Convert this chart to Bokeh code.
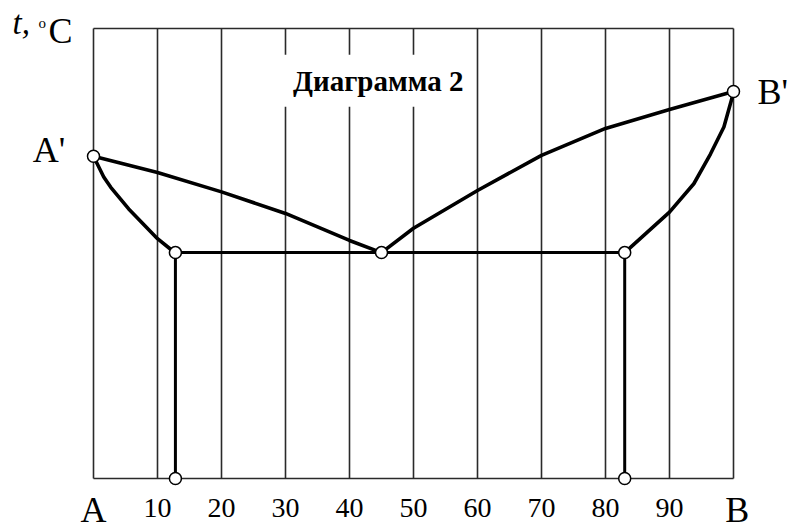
from bokeh.plotting import figure
from bokeh.models import Range1d, FixedTicker, Label, LinearAxis
from bokeh.embed import file_html
from bokeh.resources import INLINE

# ---- data (composition % B on x, temperature in arbitrary units on y) ----
grid_x = [0, 10, 20, 30, 40, 50, 60, 70, 80, 90, 100]
tick_values = [10, 20, 30, 40, 50, 60, 70, 80, 90]
tick_labels = ["10", "20", "30", "40", "50", "60", "70", "80", "90"]
y_domain = [0, 100]

liq_left_x = [0, 10, 20, 30, 40, 45]
liq_left_y = [71.6, 68.0, 63.7, 58.9, 52.9, 50.2]
liq_right_x = [45, 50, 60, 70, 80, 90, 100]
liq_right_y = [50.2, 55.6, 64.0, 71.8, 77.8, 82.0, 86.0]
sol_left_x = [0, 1.6, 2.7, 5.5, 10, 12, 12.8]
sol_left_y = [71.6, 67.0, 64.7, 59.9, 53.3, 51.0, 50.2]
sol_right_x = [83, 86.5, 90, 93.8, 96.4, 98.5, 99.8, 100]
sol_right_y = [50.2, 54.7, 59.2, 65.5, 72.1, 78.1, 84.7, 86.0]
eut_x = [12.8, 83]
eut_y = [50.2, 50.2]
pts_x = [0, 12.8, 45, 83, 100, 12.8, 83]
pts_y = [71.6, 50.2, 50.2, 50.2, 86.0, 0, 0]

SERIF = "Liberation Serif"

# the plot frame covers the whole canvas so that outer labels are not clipped
p = figure(width=787, height=531, output_backend="svg", toolbar_location=None,
           x_range=Range1d(-93 / 6.4, 694 / 6.4), y_range=Range1d(-53 / 4.5, 478 / 4.5),
           x_axis_type=None, y_axis_type=None,
           min_border_left=0, min_border_right=0, min_border_top=0, min_border_bottom=0)
p.outline_line_color = None
p.grid.visible = False
p.background_fill_color = "white"
p.border_fill_color = "white"

# axis (tick labels only), drawn at y = 0
ax = LinearAxis(ticker=FixedTicker(ticks=tick_values), fixed_location=y_domain[0])
ax.major_label_overrides = {v: s for v, s in zip(tick_values, tick_labels)}
ax.axis_line_color = None
ax.major_tick_line_color = None
ax.minor_tick_line_color = None
ax.major_label_text_font = SERIF
ax.major_label_text_font_size = "28px"
ax.major_label_text_color = "black"
ax.major_label_standoff = 14
p.add_layout(ax, "below")

# grid / frame lines
p.segment(x0=grid_x, y0=[y_domain[0]] * len(grid_x), x1=grid_x, y1=[y_domain[1]] * len(grid_x),
          line_color="#2a2a2a", line_width=1.6)
p.segment(x0=[grid_x[0]] * 2, y0=y_domain, x1=[grid_x[-1]] * 2, y1=y_domain,
          line_color="#2a2a2a", line_width=1.6)

# curves
for xs, ys in [(liq_left_x, liq_left_y), (liq_right_x, liq_right_y),
               (sol_left_x, sol_left_y), (sol_right_x, sol_right_y)]:
    p.line(xs, ys, line_color="black", line_width=3.6)
p.line(eut_x, eut_y, line_color="black", line_width=3)
p.segment(x0=eut_x, y0=[y_domain[0]] * 2, x1=eut_x, y1=eut_y, line_color="black", line_width=3)

p.scatter(pts_x, pts_y, size=12, fill_color="white", line_color="black", line_width=1.5)

# labels
def lab(**kw):
    base = dict(text_font=SERIF, text_color="black", text_baseline="alphabetic")
    base.update(kw)
    p.add_layout(Label(**base))

lab(x=-4.4, y=72.9, text="A'", text_align="right", text_font_size="36px")
lab(x=103.75, y=86.0, text="B'", text_align="left", text_font_size="36px")
lab(x=0, y=-7.1, text="A", text_align="center", text_font_size="36px")
lab(x=100.6, y=-7.1, text="B", text_align="center", text_font_size="36px")
lab(x=44.5, y=88.4, text="Диаграмма 2", text_align="center",
    text_font_size="29px", text_font_style="bold", background_fill_color="white", padding=10)
lab(x=-12.66, y=101.2, text="t,", text_font_style="italic", text_font_size="33px")
lab(x=-8.59, y=101.3, text="o", text_font_size="15px")
lab(x=-7.03, y=99.4, text="C", text_font_size="36px")

open("out.html", "w").write(file_html(p, INLINE))
